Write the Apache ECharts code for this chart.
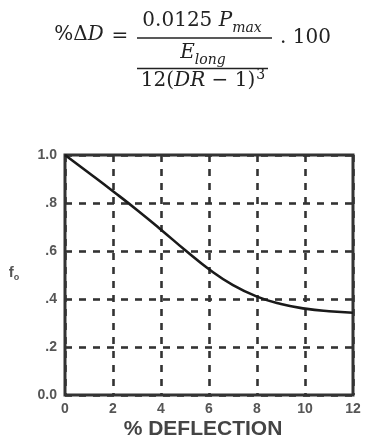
<!DOCTYPE html>
<html>
<head>
<meta charset="utf-8">
<script src="https://cdn.jsdelivr.net/npm/echarts@6/dist/echarts.min.js"></script>
<style>
html,body{margin:0;padding:0;background:#fff;}
#c{width:385px;height:448px;}
</style>
</head>
<body>
<div id="c"></div>
<script>
var deflection = [0, 1, 2, 3, 4, 5, 6, 7, 8, 9, 10, 11, 12];
var fo = [1.0, 0.925, 0.849, 0.771, 0.689, 0.604, 0.524, 0.458, 0.41, 0.379, 0.36, 0.349, 0.343];
var yTickLabels = {'0': '0.0', '0.2': '.2', '0.4': '.4', '0.6': '.6', '0.8': '.8', '1': '1.0'};
var xTitle = '% DEFLECTION';

var chart = echarts.init(document.getElementById('c'), null, {renderer: 'canvas'});
var serif = '"DejaVu Serif", serif';
var labelColor = '#555';
var lineData = deflection.map(function (x, i) { return [x, fo[i]]; });

chart.setOption({
  animation: false,
  backgroundColor: '#fff',
  grid: {left: 65, right: 32, top: 155, bottom: 53, show: true, borderColor: '#333', borderWidth: 3, backgroundColor: 'transparent'},
  xAxis: {
    type: 'value', min: 0, max: 12, interval: 2,
    axisLine: {show: false}, axisTick: {show: false},
    axisLabel: {margin: 7, color: labelColor, fontSize: 14, fontWeight: 'bold', fontFamily: '"Liberation Sans", Arial, sans-serif'},
    splitLine: {show: true, lineStyle: {color: '#333', width: 2.6, type: [7, 7]}}
  },
  yAxis: {
    type: 'value', min: 0, max: 1, interval: 0.2,
    axisLine: {show: false}, axisTick: {show: false},
    axisLabel: {margin: 8, color: labelColor, fontSize: 14, fontWeight: 'bold', fontFamily: '"Liberation Sans", Arial, sans-serif',
      formatter: function (v) { var k = String(Math.round(v * 10) / 10); return yTickLabels[k] !== undefined ? yTickLabels[k] : k; }},
    splitLine: {show: true, lineStyle: {color: '#333', width: 2.6, type: [7, 7]}}
  },
  series: [{
    type: 'line', data: lineData, smooth: 0.5, showSymbol: false,
    lineStyle: {color: '#1a1a1a', width: 2.6}, z: 5
  }],
  graphic: [
    {type: 'text', x: 79, y: 35, style: {text: '%Δ{i|D}', font: '20px ' + serif, fill: '#222', align: 'center', verticalAlign: 'middle',
      rich: {i: {fontStyle: 'italic', fontSize: 20, fontFamily: serif, fill: '#222'}}}},
    {type: 'text', x: 120, y: 37, style: {text: '=', font: '20px ' + serif, fill: '#222', align: 'center', verticalAlign: 'middle'}},
    {type: 'line', shape: {x1: 137, y1: 38, x2: 272, y2: 38}, style: {stroke: '#222', lineWidth: 1.6}},
    {type: 'text', x: 202, y: 21, style: {text: '0.0125 {i|P}{sub|max}', font: '20px ' + serif, fill: '#222', align: 'center', verticalAlign: 'middle',
      rich: {i: {fontStyle: 'italic', fontSize: 20, fontFamily: serif}, sub: {fontStyle: 'italic', fontSize: 14, fontFamily: serif, verticalAlign: 'bottom', padding: [0, 0, -4, 0]}}}},
    {type: 'text', x: 203, y: 53, style: {text: '{i|E}{sub|long}', font: '20px ' + serif, fill: '#222', align: 'center', verticalAlign: 'middle',
      rich: {i: {fontStyle: 'italic', fontSize: 20, fontFamily: serif}, sub: {fontStyle: 'italic', fontSize: 14, fontFamily: serif, verticalAlign: 'bottom', padding: [0, 0, -4, 0]}}}},
    {type: 'line', shape: {x1: 137, y1: 68.5, x2: 268, y2: 68.5}, style: {stroke: '#222', lineWidth: 1.6}},
    {type: 'text', x: 203, y: 81, style: {text: '12({i|DR} − 1){sup|3}', font: '20px ' + serif, fill: '#222', align: 'center', verticalAlign: 'middle',
      rich: {i: {fontStyle: 'italic', fontSize: 20, fontFamily: serif}, sup: {fontSize: 14, fontFamily: serif, verticalAlign: 'top', padding: [-3, 0, 0, 1]}}}},
    {type: 'text', x: 280, y: 38, style: {text: '. 100', font: '20px ' + serif, fill: '#222', align: 'left', verticalAlign: 'middle'}},
    {type: 'text', x: 14, y: 273, style: {text: 'f{s|o}', font: 'bold 15px "Liberation Sans", Arial, sans-serif', fill: labelColor, align: 'center', verticalAlign: 'middle',
      rich: {s: {fontSize: 9, fontWeight: 'bold', fontFamily: '"Liberation Sans", Arial, sans-serif', verticalAlign: 'bottom', padding: [0, 0, -2, 0]}}}},
    {type: 'text', x: 203, y: 429, style: {text: xTitle, font: 'bold 21px "Liberation Sans", Arial, sans-serif', fill: '#444', align: 'center', verticalAlign: 'middle'}}
  ]
});
</script>
</body>
</html>
